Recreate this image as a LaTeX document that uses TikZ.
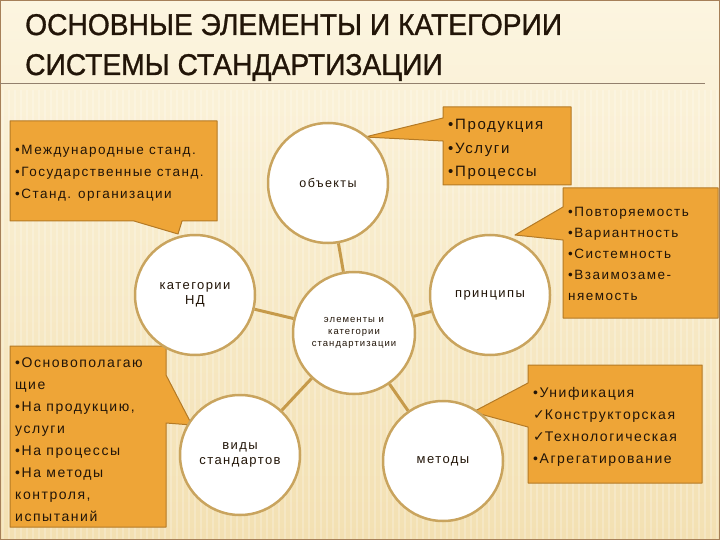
\documentclass[tikz,border=0pt]{standalone}
\usepackage{fontspec}
\setmainfont{Liberation Sans}
\newfontfamily\titlefont[FakeStretch=0.94,FakeBold=1]{Liberation Sans}
\newfontfamily\spaced[LetterSpace=11]{Liberation Sans}
\newfontfamily\checkfont{DejaVu Sans}
\definecolor{bgtop}{HTML}{FCF5E0}
\definecolor{bgbot}{HTML}{F3E0B2}
\definecolor{callfill}{HTML}{EEA537}
\definecolor{calledge}{HTML}{B47A26}
\definecolor{circedge}{HTML}{C9A45E}
\definecolor{linkcol}{HTML}{C69A4A}
\definecolor{ink}{HTML}{221508}

\begin{document}
\begin{tikzpicture}[x=1pt,y=-1pt,
  circ/.style={circle,draw=circedge,fill=white,line width=2.5pt,minimum size=120pt,inner sep=0pt,align=center,text=ink,font=\spaced\fontsize{13}{15}\selectfont},
  link/.style={draw=linkcol,line width=3pt},
  callout/.style={fill=callfill,draw=calledge,line width=1pt,line join=round},
  calltext/.style={anchor=north west,inner sep=0pt,align=left,text=ink},
  title/.style={anchor=base west,inner sep=0pt,text=ink,font=\titlefont\fontsize{30}{36}\selectfont}]
\useasboundingbox (0,0) rectangle (720,540);
\shade[top color=bgtop,bottom color=bgbot] (0,0) rectangle (720,540);
\foreach \x in {3,9,...,720}
  \draw[white,opacity=0.22,line width=2pt] (\x,90) -- (\x,540);
\draw[draw=brown!60!gray,line width=1.5pt] (0,0) rectangle (720,540);

\node[title] (ttl1) at (25,35) {ОСНОВНЫЕ ЭЛЕМЕНТЫ И КАТЕГОРИИ};
\node[title] (ttl2) at (25,75) {СИСТЕМЫ СТАНДАРТИЗАЦИИ};
\draw[gray!70!brown,line width=1pt] (0,84) -- (705,84);

\filldraw[callout] (10,121) -- (217,121) -- (217,221) -- (182,221) -- (178,234) -- (134,221) -- (10,221) -- cycle;
\filldraw[callout] (443,107) -- (571,107) -- (571,185) -- (443,185) -- (443,141) -- (365,137) -- (443,118) -- cycle;
\filldraw[callout] (563,188) -- (718,188) -- (718,318) -- (563,318) -- (563,240) -- (515,235) -- (563,207) -- cycle;
\filldraw[callout] (10,346) -- (166,346) -- (166,375) -- (192,425) -- (166,423) -- (166,527) -- (10,527) -- cycle;
\filldraw[callout] (528,365) -- (702,365) -- (702,483) -- (528,483) -- (528,427) -- (473,412) -- (528,383) -- cycle;

\node[calltext,font=\spaced\fontsize{13.5}{22}\selectfont] (stds) at (15,145)
  {•Международные станд.\\•Государственные станд.\\•Станд. организации};
\node[calltext,font=\spaced\fontsize{15}{23.5}\selectfont] (objs) at (448,119)
  {•Продукция\\•Услуги\\•Процессы};
\node[calltext,font=\spaced\fontsize{13.5}{21}\selectfont] (prcs) at (568,207)
  {•Повторяемость\\•Вариантность\\•Системность\\•Взаимозаме-\\няемость};
\node[calltext,font=\spaced\fontsize{14}{21.9}\selectfont] (kinds) at (15,358)
  {•Основополагаю\\щие\\•На продукцию,\\услуги\\•На процессы\\•На методы\\контроля,\\испытаний};
\node[calltext,font=\spaced\fontsize{14}{22}\selectfont] (meths) at (533,387)
  {•Унификация\\{\checkfont ✓}Конструкторская\\{\checkfont ✓}Технологическая\\•Агрегатирование};

\node[circ,minimum size=122pt,font=\spaced\fontsize{9.5}{12}\selectfont] (core) at (354,333) {элементы и\\категории\\стандартизации};
\node[circ,font=\spaced\fontsize{12.5}{15}\selectfont] (obj) at (328,183) {\raisebox{-3pt}{объекты}};
\node[circ] (katnd) at (195,295) {категории\\НД};
\node[circ] (princ) at (490,295) {принципы};
\node[circ] (vidy) at (240,455) {виды\\стандартов};
\node[circ] (metody) at (443,461) {методы};

\draw[link] (core) -- (obj);
\draw[link] (core) -- (katnd);
\draw[link] (core) -- (princ);
\draw[link] (core) -- (vidy);
\draw[link] (core) -- (metody);
\end{tikzpicture}
\end{document}
